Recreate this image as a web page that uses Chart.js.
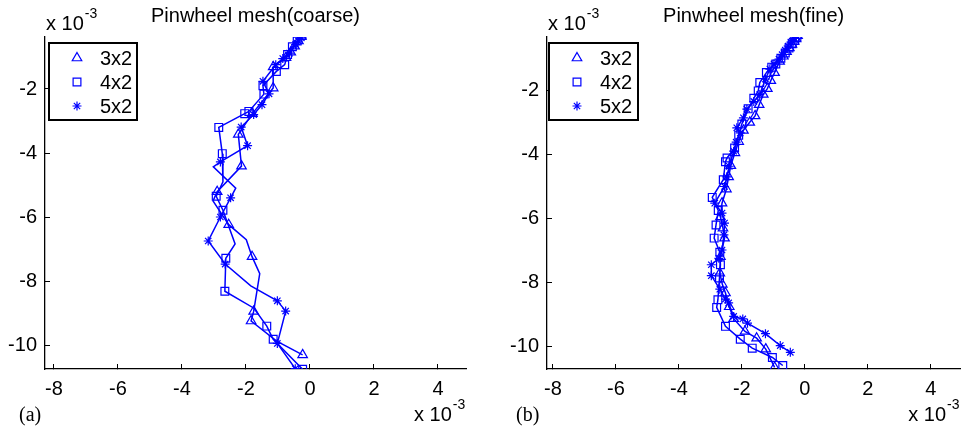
<!DOCTYPE html>
<html>
<head>
<meta charset="utf-8">
<script src="https://cdn.jsdelivr.net/npm/chart.js@4/dist/chart.umd.min.js"></script>
<style>
  body { margin: 0; background: #fff; }
  #wrap { position: relative; width: 967px; height: 430px; }
  canvas { position: absolute; top: 0; }
</style>
</head>
<body>
<div id="wrap">
  <canvas id="coarse" width="480" height="430" style="left:0"></canvas>
  <canvas id="fine" width="487" height="430" style="left:480px"></canvas>
</div>
<script>
// values are in units of 1e-3 (axes read "x 10^-3")
const seriesNames = ['3x2', '4x2', '5x2'];
const xTicks = [-8, -6, -4, -2, 0, 2, 4];
const yTicks = [-10, -8, -6, -4, -2];

// (a) coarse mesh
const coarse3x2X = [-0.27,-0.36,-0.48,-0.60,-0.75,-1.15,-1.15,-1.80,-2.24,-2.14,-2.90,-3.03,-2.54,-1.99,-1.81,-1.57,-1.76,-1.84,-1.04,-0.23];
const coarse3x2Y = [-0.36,-0.50,-0.66,-0.85,-1.02,-1.31,-1.97,-2.77,-3.42,-4.41,-5.21,-5.50,-6.24,-6.71,-7.24,-7.77,-8.95,-9.25,-9.88,-10.31];
const coarse4x2X = [-0.25,-0.40,-0.55,-0.70,-0.79,-1.05,-1.47,-1.44,-1.91,-2.04,-2.85,-2.74,-2.72,-2.93,-2.72,-2.34,-2.63,-2.66,-1.75,-1.35,-1.15,-0.23];
const coarse4x2Y = [-0.33,-0.50,-0.68,-0.92,-1.24,-1.45,-1.90,-2.16,-2.70,-2.77,-3.20,-4.02,-4.90,-5.35,-5.79,-6.84,-7.29,-8.32,-8.85,-9.41,-9.82,-10.76];
const coarse5x2X = [-0.27,-0.36,-0.45,-0.64,-0.85,-1.07,-1.47,-1.28,-1.50,-1.76,-2.15,-1.95,-2.80,-3.02,-2.32,-2.48,-2.80,-3.18,-2.65,-1.85,-1.02,-0.76,-1.02,-0.46];
const coarse5x2Y = [-0.40,-0.50,-0.61,-0.88,-1.05,-1.24,-1.76,-2.15,-2.49,-2.80,-3.19,-3.77,-4.28,-4.43,-5.10,-5.40,-6.00,-6.75,-7.47,-8.15,-8.62,-8.94,-9.95,-10.74];
// vertices drawn without a marker
const coarseBends = [[11, 13, 15, 18], [12, 15, 18], [13, 14, 19]];

// (b) fine mesh
const fine3x2X = [-0.23,-0.28,-0.34,-0.41,-0.49,-0.58,-0.68,-0.80,-0.96,-1.08,-1.19,-1.32,-1.45,-1.58,-1.75,-1.95,-2.10,-2.22,-2.35,-2.42,-2.49,-2.63,-2.68,-2.60,-2.55,-2.68,-2.70,-2.62,-2.52,-2.40,-2.26,-1.90,-1.53,-1.24,-0.96];
const fine3x2Y = [-0.30,-0.40,-0.48,-0.57,-0.68,-0.80,-0.94,-1.10,-1.45,-1.70,-1.95,-2.13,-2.45,-2.80,-3.00,-3.25,-3.60,-3.95,-4.35,-4.70,-5.08,-5.52,-5.95,-6.30,-6.61,-7.19,-7.70,-8.05,-8.32,-8.75,-9.12,-9.52,-9.73,-10.07,-10.64];
const fine4x2X = [-0.25,-0.32,-0.40,-0.50,-0.62,-0.76,-0.92,-1.05,-1.22,-1.43,-1.48,-1.62,-1.80,-2.00,-2.10,-2.23,-2.47,-2.52,-2.59,-2.94,-2.75,-2.82,-2.88,-2.70,-2.68,-2.71,-2.76,-2.80,-2.52,-2.05,-1.67,-1.03,-0.70];
const fine4x2Y = [-0.35,-0.45,-0.55,-0.68,-0.84,-1.00,-1.18,-1.28,-1.45,-1.76,-2.02,-2.25,-2.58,-3.05,-3.40,-3.80,-4.11,-4.23,-4.79,-5.34,-5.75,-6.20,-6.61,-7.05,-7.44,-7.85,-8.53,-8.77,-9.36,-9.76,-10.04,-10.33,-10.58];
const fine5x2X = [-0.30,-0.36,-0.44,-0.53,-0.62,-0.72,-0.82,-0.98,-1.11,-1.25,-1.43,-1.62,-1.84,-1.95,-2.16,-2.05,-2.18,-2.26,-2.40,-2.48,-2.55,-2.86,-2.63,-2.55,-2.57,-2.63,-2.73,-2.97,-2.97,-2.70,-2.52,-2.42,-2.26,-1.97,-1.82,-1.25,-0.78,-0.46];
const fine5x2Y = [-0.28,-0.38,-0.50,-0.62,-0.75,-0.89,-1.03,-1.18,-1.34,-1.65,-2.13,-2.35,-2.59,-2.86,-3.17,-3.33,-3.62,-3.90,-4.37,-4.70,-5.00,-5.52,-5.83,-6.14,-6.51,-6.98,-7.24,-7.44,-7.78,-8.20,-8.51,-8.63,-9.05,-9.13,-9.26,-9.59,-9.96,-10.17];

const BLUE = 'rgb(0,0,255)';
const SANS = '"Liberation Sans", Arial, Helvetica, sans-serif';
const SERIF = '"Liberation Serif", "Times New Roman", serif';
const markers = ['triangle', 'rect', 'star'];
const markerSize = [5.5, 5.5, 4.5];

// title, "x 10^-3" labels and the panel letter
const panelText = {
    id: 'panelText',
    afterDraw(chart, args, o) {
        const ctx = chart.ctx, a = chart.chartArea;
        ctx.save();
        ctx.fillStyle = '#000';
        ctx.textBaseline = 'alphabetic';
        ctx.font = '20px ' + SANS;
        ctx.textAlign = 'center';
        ctx.fillText(o.title, (a.left + a.right) / 2, 22);
        ctx.textAlign = 'left';
        drawExp(ctx, a.left + 1, 30);
        drawExp(ctx, a.right - 52, 421);
        ctx.font = '20px ' + SERIF;
        ctx.fillText(o.letter, o.letterX, 421);
        ctx.restore();
    }
};

function drawExp(ctx, x, y){
    ctx.font = '20px ' + SANS;
    ctx.fillText('x 10', x, y);
    const w = ctx.measureText('x 10').width;
    ctx.font = '14px ' + SANS;
    ctx.fillText('-3', x + w + 1, y - 12);
}

// boxed legend in the top left corner of the plot area
const boxLegend = {
    id: 'boxLegend',
    afterDraw(chart, args, o) {
        const ctx = chart.ctx, a = chart.chartArea;
        const left = a.left + o.dx, top = a.top + 6, w = o.w, h = 77;
        ctx.save();
        ctx.fillStyle = '#fff';
        ctx.fillRect(left, top, w, h);
        ctx.strokeStyle = '#000';
        ctx.lineWidth = 2;
        ctx.strokeRect(left, top, w, h);
        chart.data.datasets.forEach((ds, i) => {
            const y = top + 15 + i * 24;
            ctx.strokeStyle = BLUE;
            ctx.fillStyle = 'rgba(0,0,0,0)';
            ctx.lineWidth = 1.2;
            Chart.helpers.drawPoint(ctx, {pointStyle: ds.pointStyle, radius: markerSize[i], borderWidth: 1.2, rotation: 0}, left + 28, y);
            ctx.fillStyle = '#000';
            ctx.font = '20px ' + SANS;
            ctx.textAlign = 'left';
            ctx.textBaseline = 'middle';
            ctx.fillText(ds.label, left + 51, y + 1);
        });
        ctx.restore();
    }
};

function makeDatasets(xs, ys, bends){
    return xs.map((xArr, s) => ({
        label: seriesNames[s],
        data: xArr.map((x, i) => ({x: x, y: ys[s][i]})),
        borderColor: BLUE,
        backgroundColor: BLUE,
        borderWidth: 1.5,
        pointStyle: markers[s],
        pointBorderColor: BLUE,
        pointBackgroundColor: 'rgba(0,0,0,0)',
        pointBorderWidth: 1.2,
        pointRadius: c => (bends[s].includes(c.dataIndex) ? 0 : markerSize[s]),
        fill: false,
        tension: 0
    }));
}

function makeChart(id, datasets, p){
    new Chart(document.getElementById(id), {
        type: 'line',
        data: { datasets: datasets },
        plugins: [panelText, boxLegend],
        options: {
            responsive: false,
            animation: false,
            layout: { padding: { top: 37, right: p.padRight, left: 0, bottom: 0 } },
            scales: {
                x: {
                    type: 'linear', position: 'bottom',
                    min: p.xMin, max: p.xMax,
                    afterBuildTicks: s => { s.ticks = xTicks.map(v => ({value: v})); },
                    afterFit: s => { s.height = 61; },
                    grid: { drawOnChartArea: false, tickLength: -5, color: '#000' },
                    border: { color: '#000', width: 1.3 },
                    ticks: { padding: 13, color: '#000', autoSkip: false, maxRotation: 0, font: { family: SANS, size: 20 } }
                },
                y: {
                    type: 'linear', position: 'left',
                    min: p.yMin, max: p.yMax,
                    afterBuildTicks: s => { s.ticks = yTicks.map(v => ({value: v})); },
                    afterFit: s => { s.width = p.yWidth; },
                    grid: { drawOnChartArea: false, tickLength: -5, color: '#000' },
                    border: { color: '#000', width: 1.3 },
                    ticks: { padding: 13, color: '#000', autoSkip: false, font: { family: SANS, size: 20 } }
                }
            },
            plugins: {
                legend: { display: false },
                tooltip: { enabled: false },
                panelText: { title: p.title, letter: p.letter, letterX: p.letterX },
                boxLegend: { dx: p.legendDx, w: p.legendW }
            }
        }
    });
}

makeChart('coarse',
    makeDatasets([coarse3x2X, coarse4x2X, coarse5x2X], [coarse3x2Y, coarse4x2Y, coarse5x2Y], coarseBends),
    { title: 'Pinwheel mesh(coarse)', letter: '(a)', letterX: 19, padRight: 14, yWidth: 45,
      xMin: -8.28, xMax: 4.875, yMin: -10.75, yMax: -0.375, legendDx: 4, legendW: 88 });

makeChart('fine',
    makeDatasets([fine3x2X, fine4x2X, fine5x2X], [fine3x2Y, fine4x2Y, fine5x2Y], [[], [], []]),
    { title: 'Pinwheel mesh(fine)', letter: '(b)', letterX: 36, padRight: 0, yWidth: 67,
      xMin: -8.19, xMax: 4.94, yMin: -10.69, yMax: -0.34, legendDx: 2, legendW: 89 });
</script>
</body>
</html>
